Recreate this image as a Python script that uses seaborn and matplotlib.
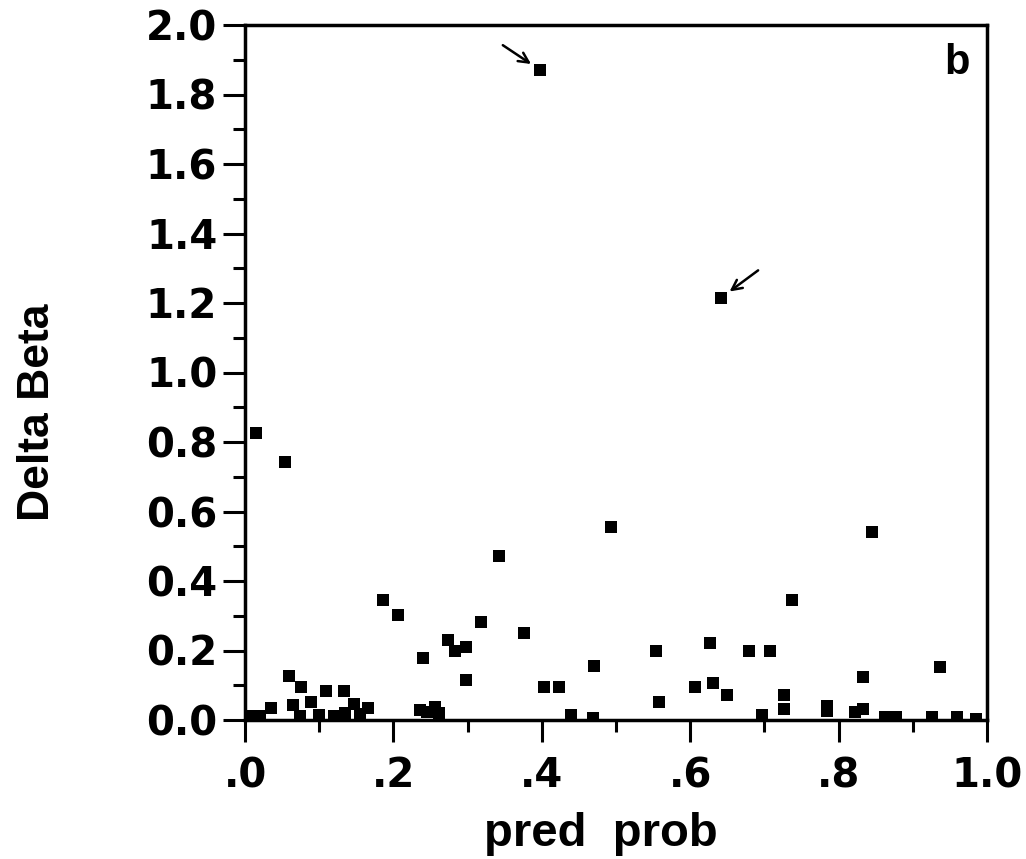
import matplotlib
matplotlib.use("Agg")
import matplotlib.pyplot as plt
from matplotlib.ticker import MultipleLocator, FixedLocator
import seaborn as sns
import pandas as pd

# ---- data ----
pred_prob = [
    0.015, 0.054, 0.186, 0.206, 0.240, 0.059, 0.075, 0.109, 0.133,
    0.035, 0.065, 0.089, 0.147, 0.166, 0.236, 0.256,
    0.008, 0.020, 0.074, 0.100, 0.120, 0.135, 0.155, 0.245, 0.262,
    0.493, 0.342, 0.318, 0.376, 0.274, 0.283, 0.298, 0.298, 0.403, 0.423,
    0.470, 0.440, 0.469,
    0.737, 0.554, 0.627, 0.679, 0.708, 0.558, 0.606, 0.631, 0.650, 0.726,
    0.726, 0.697,
    0.845, 0.937, 0.833, 0.784, 0.784, 0.822, 0.833, 0.862, 0.878, 0.926,
    0.960, 0.985,
    0.398, 0.641,
]
delta_beta = [
    0.826, 0.742, 0.345, 0.302, 0.179, 0.127, 0.095, 0.083, 0.083,
    0.035, 0.043, 0.052, 0.046, 0.035, 0.029, 0.037,
    0.012, 0.012, 0.012, 0.015, 0.012, 0.020, 0.018, 0.022, 0.020,
    0.555, 0.472, 0.282, 0.250, 0.230, 0.198, 0.210, 0.115, 0.095, 0.095,
    0.155, 0.014, 0.005,
    0.345, 0.198, 0.222, 0.198, 0.198, 0.052, 0.095, 0.106, 0.072, 0.072,
    0.032, 0.014,
    0.541, 0.153, 0.124, 0.040, 0.025, 0.022, 0.032, 0.010, 0.010, 0.008,
    0.008, 0.003,
    1.870, 1.214,
]
outlier_idx = [len(pred_prob) - 2, len(pred_prob) - 1]

x_ticks = [0.0, 0.2, 0.4, 0.6, 0.8, 1.0]
x_ticklabels = [".0", ".2", ".4", ".6", ".8", "1.0"]
y_ticks = [0.0, 0.2, 0.4, 0.6, 0.8, 1.0, 1.2, 1.4, 1.6, 1.8, 2.0]
y_ticklabels = ["0.0", "0.2", "0.4", "0.6", "0.8", "1.0", "1.2", "1.4", "1.6", "1.8", "2.0"]

df = pd.DataFrame({"pred prob": pred_prob, "Delta Beta": delta_beta})

sns.set_style("ticks")
plt.rcParams["font.family"] = ["DejaVu Sans"]
plt.rcParams["text.color"] = "black"
plt.rcParams["axes.labelcolor"] = "black"
plt.rcParams["xtick.color"] = "black"
plt.rcParams["ytick.color"] = "black"
plt.rcParams["xtick.labelcolor"] = "black"
plt.rcParams["ytick.labelcolor"] = "black"

fig = plt.figure(figsize=(10.26, 8.59), dpi=100)
ax = fig.add_axes([245 / 1026, 1 - 720 / 859, (987 - 245) / 1026, (720 - 25) / 859])

sns.scatterplot(data=df, x="pred prob", y="Delta Beta", ax=ax, marker="s",
                s=76, color="black", linewidth=0, legend=False, zorder=3)

ax.set_xlim(0, 1.0)
ax.set_ylim(0, 2.0)
ax.xaxis.set_major_locator(FixedLocator(x_ticks))
ax.xaxis.set_minor_locator(MultipleLocator(0.1))
ax.yaxis.set_major_locator(FixedLocator(y_ticks))
ax.yaxis.set_minor_locator(MultipleLocator(0.1))
ax.set_xticklabels(x_ticklabels)
ax.set_yticklabels(y_ticklabels)

ax.tick_params(axis="both", which="major", direction="out", length=16, width=2.2,
               color="black", labelcolor="black", labelsize=29, pad=4)
ax.tick_params(axis="x", which="major", pad=10)
ax.tick_params(axis="both", which="minor", direction="out", length=8.5, width=2.2,
               color="black")
for lab in ax.get_xticklabels() + ax.get_yticklabels():
    lab.set_fontweight("bold")
    lab.set_family("DejaVu Sans")
    lab.set_color("black")

for sp in ax.spines.values():
    sp.set_visible(True)
    sp.set_linewidth(2.5)
    sp.set_color("black")

ax.set_xlabel("pred  prob", fontsize=34, fontweight="bold", family="Liberation Sans",
              color="black")
ax.set_ylabel("Delta Beta", fontsize=32, fontweight="bold", family="Liberation Sans",
              color="black")
ax.xaxis.set_label_coords(0.48, -0.132)
ax.yaxis.set_label_coords(-0.252, 0.443)

ax.text(0.96, 0.945, "b", transform=ax.transAxes, ha="center", va="center",
        fontsize=30, fontweight="bold", family="Liberation Sans", color="black")

# arrows pointing at the two outliers
offsets = [(-27, 18), (27, 20)]
for idx, off in zip(outlier_idx, offsets):
    ax.annotate("", xy=(pred_prob[idx], delta_beta[idx]), xytext=off,
                textcoords="offset points",
                arrowprops=dict(arrowstyle="->", lw=1.8, color="black",
                                shrinkA=0, shrinkB=8, mutation_scale=18))

fig.savefig("out.png", dpi=100)
